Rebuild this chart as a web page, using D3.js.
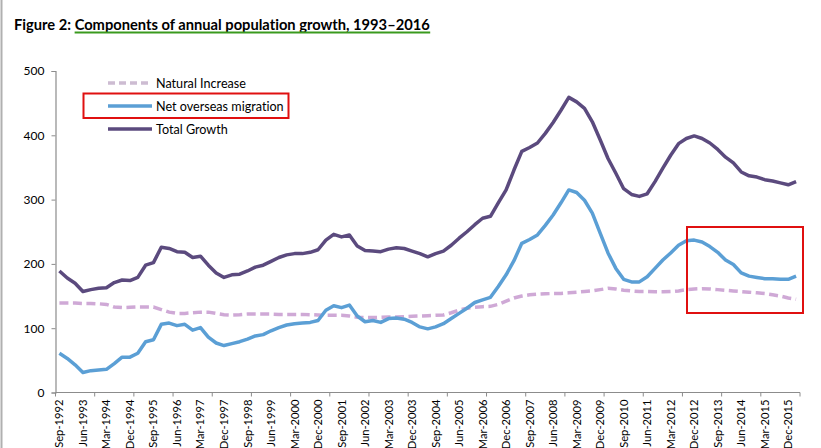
<!DOCTYPE html>
<html><head><meta charset="utf-8">
<script src="https://cdn.jsdelivr.net/npm/d3@7"></script>
<style>
html,body{margin:0;padding:0;background:#fff;}
svg text{font-family:Lato,"Open Sans",sans-serif;font-variant-ligatures:none;}
</style></head>
<body>
<svg id="c" width="821" height="448"></svg>
<script>
const categories = [
 "Sep-1992","Dec-1992",
 "Mar-1993","Jun-1993","Sep-1993","Dec-1993",
 "Mar-1994","Jun-1994","Sep-1994","Dec-1994",
 "Mar-1995","Jun-1995","Sep-1995","Dec-1995",
 "Mar-1996","Jun-1996","Sep-1996","Dec-1996",
 "Mar-1997","Jun-1997","Sep-1997","Dec-1997",
 "Mar-1998","Jun-1998","Sep-1998","Dec-1998",
 "Mar-1999","Jun-1999","Sep-1999","Dec-1999",
 "Mar-2000","Jun-2000","Sep-2000","Dec-2000",
 "Mar-2001","Jun-2001","Sep-2001","Dec-2001",
 "Mar-2002","Jun-2002","Sep-2002","Dec-2002",
 "Mar-2003","Jun-2003","Sep-2003","Dec-2003",
 "Mar-2004","Jun-2004","Sep-2004","Dec-2004",
 "Mar-2005","Jun-2005","Sep-2005","Dec-2005",
 "Mar-2006","Jun-2006","Sep-2006","Dec-2006",
 "Mar-2007","Jun-2007","Sep-2007","Dec-2007",
 "Mar-2008","Jun-2008","Sep-2008","Dec-2008",
 "Mar-2009","Jun-2009","Sep-2009","Dec-2009",
 "Mar-2010","Jun-2010","Sep-2010","Dec-2010",
 "Mar-2011","Jun-2011","Sep-2011","Dec-2011",
 "Mar-2012","Jun-2012","Sep-2012","Dec-2012",
 "Mar-2013","Jun-2013","Sep-2013","Dec-2013",
 "Mar-2014","Jun-2014","Sep-2014","Dec-2014",
 "Mar-2015","Jun-2015","Sep-2015","Dec-2015",
 "Mar-2016"
];

const naturalIncrease = [
 139,139,139,138.5,138.5,138,137,133,132,132.5,
 133,133,133,129,125,123,123,124,125,125,
 123,121,120.5,121,122,122,122,122,121.5,121.5,
 121.5,121.5,121,120.5,120,120,120,119,117,116.5,
 116.5,117,117.5,117.5,118,118.5,119,119.5,120,120.5,
 124,128,131,132.5,133.5,134,137,142,147,150,
 152,153,153.5,154,154,155,156,157,158,160,
 162,161,159,158,157,157,156.5,156.5,157,158,
 160,161,161.5,161,160,159,158,157,156,155,
 154,152,150,147,145
];

const netOverseasMigration = [
 61,53,43,31,34,35,36,45,55,55,
 61,79,82,106,108,104,106,97,101,86,
 77,73,76,79,83,88,90,96,101,105,
 107,108,109,112,128,135,132,136,119,110,
 112,109,115,116,114,109,102,99,102,107,
 115,123,131,140,144,148,165,183,205,232,
 238,245,260,276,295,315,311,299,279,248,
 217,193,176,172,172,180,193,206,217,229,
 236,237,234,227,218,206,199,186,181,179,
 177,177,176,176,181
];

const totalGrowth = [
 189,178,170,157,160,162,163,171,175,174,
 179,198,202,226,224,219,218,210,212,198,
 186,179,183,184,189,195,198,204,210,214,
 216,216,218,222,237,246,242,245,228,221,
 220,219,223,225,224,220,216,211,216,220,
 229,240,250,261,271,274,295,315,346,375,
 381,388,403,420,439,459,452,442,421,393,
 364,341,317,308,305,309,328,349,369,387,
 395,399,395,388,378,366,357,343,337,335,
 331,329,326,323,328
];

const xTickLabels = categories.filter((d,i)=> i % 3 === 0);
const yTicks = [0,100,200,300,400,500];
const seriesNames = ["Natural Increase","Net overseas migration","Total Growth"];
const titlePrefix = "Figure 2: ";
const titleMain = "Components of annual population growth, 1993–2016";

const svg = d3.select("#c");

// left page border
svg.append("line").attr("x1",1.5).attr("x2",1.5).attr("y1",0).attr("y2",448)
  .attr("stroke","#b0b0b0").attr("stroke-width",2);

// title
const title = svg.append("text").attr("x",14).attr("y",30)
  .attr("font-size",14.7).attr("font-weight","bold").attr("fill","#000");
title.append("tspan").text(titlePrefix);
const tMain = title.append("tspan").text(titleMain);

const x = d3.scaleBand().domain(categories).range([55.5, 800]).paddingInner(0).paddingOuter(0);
const y = d3.scaleLinear().domain([0,500]).range([392.5, 71]);
const cx = d => x(d) + x.bandwidth()/2;

// underline for title main part
{
  const bb = tMain.node().getBBox();
  svg.append("line").attr("x1",bb.x).attr("x2",bb.x+bb.width)
    .attr("y1",32.5).attr("y2",32.5).attr("stroke","#3a9a1e").attr("stroke-width",2);
}

// y axis
const yAxis = d3.axisLeft(y).tickValues(yTicks).tickSize(4).tickPadding(7).tickFormat(d3.format("d"));
const gy = svg.append("g").attr("transform","translate(55.5,0)").call(yAxis);
gy.select(".domain").attr("stroke","#8c8c8c").attr("stroke-width",1.2);
gy.selectAll(".tick line").attr("stroke","#8c8c8c");
gy.selectAll(".tick text").attr("font-size",12).attr("fill","#000").attr("font-family","Lato");

// x axis line + ticks at band boundaries every 5 categories
const gx = svg.append("g");
gx.append("line").attr("x1",55.5).attr("x2",800).attr("y1",y(0)).attr("y2",y(0))
  .attr("stroke","#8c8c8c").attr("stroke-width",1.2);
const tickCats = categories.filter((d,i)=> i % 5 === 0);
const tickPos = tickCats.map(c => x(c)).concat([x.range()[1]]);
gx.selectAll("line.tk").data(tickPos).join("line").attr("class","tk")
  .attr("x1",d=>d).attr("x2",d=>d).attr("y1",y(0)).attr("y2",y(0)+4)
  .attr("stroke","#8c8c8c");
gx.selectAll("text.xl").data(xTickLabels).join("text").attr("class","xl")
  .attr("transform",d=>`translate(${cx(d)+4},${y(0)+7}) rotate(-90)`)
  .attr("text-anchor","end").attr("font-size",11.2).attr("fill","#000").text(d=>d);

// lines
const line = d3.line().x((d,i)=>cx(categories[i])).y(d=>y(d));
svg.append("path").datum(naturalIncrease).attr("d",line).attr("fill","none")
  .attr("stroke","#cfa9d6").attr("stroke-width",3.5).attr("stroke-dasharray","9,4.5");
svg.append("path").datum(netOverseasMigration).attr("d",line).attr("fill","none")
  .attr("stroke","#5b9fd5").attr("stroke-width",3.5).attr("stroke-linejoin","round");
svg.append("path").datum(totalGrowth).attr("d",line).attr("fill","none")
  .attr("stroke","#5b4a7e").attr("stroke-width",3.5).attr("stroke-linejoin","round");

// legend
const legendY = [83, 106, 129];
const legendStyles = [
  {stroke:"#cdbcd2", dash:"7,4"},
  {stroke:"#5b9fd5", dash:null},
  {stroke:"#5b4a7e", dash:null}
];
seriesNames.forEach((n,i)=>{
  const l = svg.append("line").attr("x1",108).attr("x2",152).attr("y1",legendY[i]).attr("y2",legendY[i])
    .attr("stroke",legendStyles[i].stroke).attr("stroke-width",3.5);
  if (legendStyles[i].dash) l.attr("stroke-dasharray",legendStyles[i].dash);
  svg.append("text").attr("x",156).attr("y",legendY[i]+4.5).attr("font-size",12.6).attr("fill","#000").text(n);
});

// red highlight boxes
svg.append("rect").attr("x",83.5).attr("y",93.5).attr("width",205).attr("height",24.5)
  .attr("fill","none").attr("stroke","#e01010").attr("stroke-width",2);
svg.append("rect").attr("x",687).attr("y",227).attr("width",116).attr("height",86)
  .attr("fill","none").attr("stroke","#e01010").attr("stroke-width",2);
</script>
</body></html>
